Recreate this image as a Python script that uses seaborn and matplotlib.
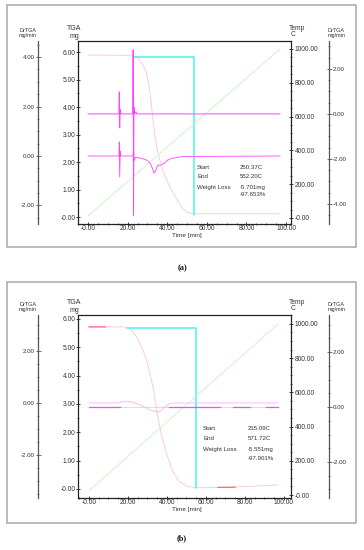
import numpy as np
import pandas as pd
import matplotlib
matplotlib.use('Agg')
import matplotlib.pyplot as plt
import seaborn as sns
from matplotlib.patches import Rectangle
from matplotlib.ticker import MultipleLocator

sns.set_style('ticks')
plt.rcParams['font.family'] = ['Liberation Sans', 'DejaVu Sans']

W, H = 364, 550

# ---------------- data, panel (a)
time_tga_a = [0, 20, 24, 26, 28, 29.5, 31, 32, 33, 34, 35, 36, 38, 40, 42, 44, 46, 48, 50, 53, 60, 97]
tga_a = [5.89, 5.88, 5.84, 5.72, 5.5, 5.25, 4.7, 4.1, 3.4, 2.85, 2.45, 2.15, 1.65, 1.3, 1.0, 0.75, 0.5, 0.3, 0.18, 0.12, 0.12, 0.12]
time_dr_a = [0, 15.6, 15.8, 16.0, 16.2, 16.5, 22.6, 22.8, 23.0, 23.2, 23.5, 24.2, 24.6, 97]
drtga_r_a = [0, 0, 0.98, -0.62, 0.2, 0, 0, 2.85, -4.5, 0.3, 0, 0.1, 0, 0]
time_dl_a = [0, 15.6, 15.8, 16.0, 16.3, 16.6, 22.7, 23.0, 23.3, 24, 26, 28, 30, 31.5, 32.5, 33.3,
             34, 34.8, 35.5, 36.5, 37.5, 38.5, 40, 42, 45, 48, 97]
drtga_l_a = [0, 0, 0.57, -0.85, 0.2, 0, 0, 0.2, -0.2, -0.05, -0.08, -0.12, -0.18, -0.3, -0.5, -0.69,
             -0.62, -0.45, -0.36, -0.38, -0.33, -0.3, -0.18, -0.1, -0.06, -0.02, 0]
time_temp_a = [0, 97]
temp_a = [12, 1000]
time_cyan_a = [23, 53.5, 53.5]
cyan_a = [5.82, 5.82, 0.07]
result_a = [('Start', '250.37C'), ('End', '552.20C'), ('Weight Loss', '-5.701mg'), ('', '-97.653%')]

# ---------------- data, panel (b)
time_tga_b = [0, 18, 20, 22, 25, 28, 30, 33, 35, 37, 40, 43, 46.5, 50, 55, 65, 75, 85, 97]
tga_b = [5.72, 5.72, 5.7, 5.6, 5.3, 4.85, 4.45, 3.55, 2.7, 1.95, 1.2, 0.62, 0.25, 0.1, 0.04, 0.05, 0.07, 0.1, 0.14]
time_red_b = [0, 8.5, np.nan, 66, 75]
red_b = [5.72, 5.72, np.nan, 0.055, 0.06]
time_dl_b = [0, 15, 18, 20, 22, 25, 28, 31, 33, 35, 37, 39, 41, 43, 97]
drtga_l_b = [0, 0, 0.06, 0.07, 0.04, -0.04, -0.14, -0.25, -0.31, -0.35, -0.3, -0.15, -0.04, 0, 0]
time_dr_b = [0, 97]
drtga_r_b = [0, 0]
time_dr_seg_b = [0, 16, np.nan, 41, 67, np.nan, 74, 82.5, np.nan, 91, 97]
drtga_r_seg_b = [0, 0, np.nan, 0, 0, np.nan, 0, 0, np.nan, 0, 0]
time_temp_b = [0, 97]
temp_b = [25, 1000]
time_cyan_b = [19.5, 55, 55]
cyan_b = [5.68, 5.68, 0.04]
result_b = [('Start', '215.09C'), ('End', '571.72C'), ('Weight Loss', '-5.551mg'), ('', '-97.901%')]

# ---------------- tick labels
time_ticks = [0, 20, 40, 60, 80, 100]
time_labels = ['-0.00', '20.00', '40.00', '60.00', '80.00', '100.00']
tga_ticks = [0, 1, 2, 3, 4, 5, 6]
tga_labels = ['-0.00', '1.00', '2.00', '3.00', '4.00', '5.00', '6.00']
temp_ticks = [0, 200, 400, 600, 800, 1000]
temp_labels = ['-0.00', '200.00', '400.00', '600.00', '800.00', '1000.00']
dl_ticks_a = [-2, 0, 2, 4]
dl_labels_a = ['-2.00', '0.00', '2.00', '4.00']
dr_ticks_a = [-4, -2, 0, 2]
dr_labels_a = ['-4.00', '-2.00', '0.00', '2.00']
dl_ticks_b = [-2, 0, 2]
dl_labels_b = ['-2.00', '0.00', '2.00']
dr_ticks_b = [-2, 0, 2]
dr_labels_b = ['-2.00', '0.00', '2.00']

C_TGA = '#ffc4cf'
C_MAG = '#ff44ff'
C_MAG_L = '#ffb0ff'
C_CYAN = '#4af2f2'
C_GREEN = '#c4f5c4'
C_RED = '#ff6a6a'
C_TXT = '#333333'

fig = plt.figure(figsize=(W / 100, H / 100), dpi=100)


def px_rect(left, top, right, bottom):
    return [left / W, 1 - bottom / H, (right - left) / W, (bottom - top) / H]


def ftext(x, y, s, **kw):
    kw.setdefault('fontsize', 4.8)
    kw.setdefault('color', C_TXT)
    kw.setdefault('va', 'center')
    fig.text(x / W, 1 - y / H, s, **kw)


def line(ax, x, y, color, lw):
    df = pd.DataFrame({'t': x, 'v': y})
    sns.lineplot(data=df, x='t', y='v', ax=ax, color=color, linewidth=lw,
                 estimator=None, sort=False, legend=False)
    ax.set_xlabel('')
    ax.set_ylabel('')


def setup_panel(top, bottom, xlim, tga_lim, temp_lim, dl_lim, dr_lim, dl_ticks, dl_labels,
                dr_ticks, dr_labels):
    left, right = 78, 291
    ax = fig.add_axes(px_rect(left, top, right, bottom))
    ax.set_xlim(*xlim)
    ax.set_ylim(*tga_lim)
    ax_t = ax.twinx()
    ax_t.set_ylim(*temp_lim)
    ax_dl = ax.twinx()
    ax_dl.set_ylim(*dl_lim)
    ax_dr = ax.twinx()
    ax_dr.set_ylim(*dr_lim)

    for a in (ax, ax_t, ax_dl, ax_dr):
        for s in a.spines.values():
            s.set_visible(False)
    for s in ('left', 'top', 'bottom'):
        ax.spines[s].set_visible(True)
        ax.spines[s].set_color('#222222')
        ax.spines[s].set_linewidth(0.9)
    ax_t.spines['right'].set_visible(True)
    ax_t.spines['right'].set_color('#222222')
    ax_t.spines['right'].set_linewidth(0.9)

    ax_dl.yaxis.set_ticks_position('left')
    ax_dl.yaxis.set_label_position('left')
    ax_dl.spines['left'].set_visible(True)
    ax_dl.spines['left'].set_position(('axes', (38 - left) / (right - left)))
    ax_dl.spines['left'].set_color('#555555')
    ax_dl.spines['left'].set_linewidth(0.9)
    ax_dr.spines['right'].set_visible(True)
    ax_dr.spines['right'].set_position(('axes', (329 - left) / (right - left)))
    ax_dr.spines['right'].set_color('#555555')
    ax_dr.spines['right'].set_linewidth(0.9)

    ax.set_xticks(time_ticks, time_labels)
    ax.set_yticks(tga_ticks, tga_labels)
    ax_t.set_yticks(temp_ticks, temp_labels)
    ax_dl.set_yticks(dl_ticks, dl_labels)
    ax_dr.set_yticks(dr_ticks, dr_labels)
    ax.xaxis.set_minor_locator(MultipleLocator(5))
    ax.yaxis.set_minor_locator(MultipleLocator(0.5))
    ax_t.yaxis.set_minor_locator(MultipleLocator(50))
    ax_dl.yaxis.set_minor_locator(MultipleLocator(0.5))
    ax_dr.yaxis.set_minor_locator(MultipleLocator(0.5))

    ax.tick_params(axis='x', which='major', direction='inout', length=3, width=0.6,
                   labelsize=4.8, pad=-0.9, colors='#222222', labelcolor=C_TXT)
    ax.tick_params(axis='x', which='minor', direction='inout', length=2, width=0.5, colors='#222222')
    ax.tick_params(axis='y', which='major', direction='inout', length=3, width=0.6,
                   labelsize=4.8, pad=0.2, colors='#222222', labelcolor=C_TXT)
    ax.tick_params(axis='y', which='minor', direction='inout', length=1.8, width=0.5, colors='#222222')
    ax_t.tick_params(axis='y', which='major', direction='inout', length=3, width=0.6,
                     labelsize=4.8, pad=1.2, colors='#222222', labelcolor=C_TXT)
    ax_t.tick_params(axis='y', which='minor', direction='inout', length=1.8, width=0.5, colors='#222222')
    for a in (ax_dl, ax_dr):
        a.tick_params(axis='y', which='major', direction='inout', length=3.6, width=0.6,
                      labelsize=4.4, pad=0.6, colors='#555555', labelcolor=C_TXT)
        a.tick_params(axis='y', which='minor', direction='inout', length=2, width=0.5, colors='#555555')
    return ax, ax_t, ax_dl, ax_dr


def header(top, time_y, tag, tag_y):
    ftext(28, top - 11, 'DrTGA', fontsize=4.0, ha='center')
    ftext(28, top - 5, 'mg/min', fontsize=4.0, ha='center')
    ftext(74, top - 13, 'TGA', fontsize=5.0, ha='center')
    ftext(74, top - 4, 'mg', fontsize=5.0, ha='center')
    ftext(289, top - 13, 'Temp', fontsize=4.8, ha='left')
    ftext(291, top - 7, 'C', fontsize=4.8, ha='left')
    ftext(336, top - 11, 'DrTGA', fontsize=4.0, ha='center')
    ftext(337, top - 5, 'mg/min', fontsize=4.0, ha='center')
    ftext(187, time_y, 'Time [min]', fontsize=4.6, ha='center')
    fig.text(182 / W, 1 - tag_y / H, tag, fontsize=6, ha='center', va='center',
             family=['Liberation Serif', 'DejaVu Serif'], weight='bold', color='#111111')


def results(rows, xl, xv, ys):
    for (lab, val), y in zip(rows, ys):
        if lab:
            ftext(xl, y, lab, fontsize=4.4, ha='left')
        ftext(xv, y, val, fontsize=4.4, ha='left')


# outer frames
for (x0, y0, x1, y1) in [(7, 5, 356, 247), (7, 282, 356, 523)]:
    fig.add_artist(Rectangle((x0 / W, 1 - y1 / H), (x1 - x0) / W, (y1 - y0) / H,
                             transform=fig.transFigure, fill=False, edgecolor='#a8a8a8', linewidth=1.1))

# ---------------- panel (a)
ax, ax_t, ax_dl, ax_dr = setup_panel(41, 224, (-5.05, 102.5), (-0.25, 6.4), (-35.5, 1047),
                                     (-2.75, 4.65), (-4.89, 3.24), dl_ticks_a, dl_labels_a,
                                     dr_ticks_a, dr_labels_a)
line(ax_t, time_temp_a, temp_a, C_GREEN, 0.6)
line(ax, time_tga_a, tga_a, C_TGA, 0.6)
line(ax_dl, time_dl_a, drtga_l_a, C_MAG, 0.6)
line(ax_dr, time_dr_a, drtga_r_a, C_MAG, 0.7)
line(ax, time_cyan_a, cyan_a, C_CYAN, 1.1)
header(41, 236, '(a)', 268)
results(result_a, 197, 240, [167, 177, 187, 195])

# ---------------- panel (b)
ax, ax_t, ax_dl, ax_dr = setup_panel(315, 498, (-5.6, 103.6), (-0.32, 6.14), (-17.5, 1052),
                                     (-3.65, 3.38), (-3.31, 3.35), dl_ticks_b, dl_labels_b,
                                     dr_ticks_b, dr_labels_b)
line(ax_t, time_temp_b, temp_b, C_GREEN, 0.6)
line(ax, time_tga_b, tga_b, C_TGA, 0.6)
ax.plot(time_red_b, red_b, color=C_RED, linewidth=0.9)
line(ax_dl, time_dl_b, drtga_l_b, C_MAG_L, 0.6)
line(ax_dr, time_dr_b, drtga_r_b, C_MAG_L, 0.5)
ax_dr.plot(time_dr_seg_b, drtga_r_seg_b, color=C_MAG, linewidth=0.9)
line(ax, time_cyan_b, cyan_b, C_CYAN, 1.1)
header(315, 510, '(b)', 538)
results(result_b, 203, 248, [429, 439, 449, 458])

fig.savefig('out.png', dpi=100)
